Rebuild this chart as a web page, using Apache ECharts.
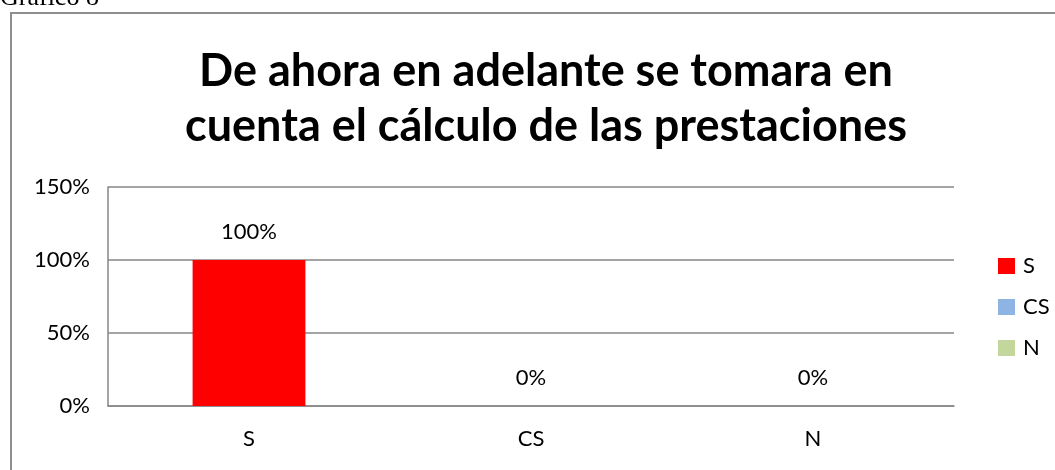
<!DOCTYPE html>
<html>
<head>
<meta charset="utf-8">
<script src="https://cdn.jsdelivr.net/npm/echarts@6/dist/echarts.min.js"></script>
<style>
    html, body { margin: 0; padding: 0; background: #fff; }
    #chart { width: 1055px; height: 470px; }
</style>
</head>
<body>
<div id="chart"></div>
<script>
// datos del gráfico
const categorias = ['S', 'CS', 'N'];
const valoresS = [100, null, null];
const valoresCS = [null, 0, null];
const valoresN = [null, null, 0];
const ticksY = [0, 50, 100, 150];

const fuente = 'Lato';
const gris = '#868686';

let chart = echarts.init(document.getElementById('chart'));

function serie(nombre, datos, color) {
    return {
        name: nombre,
        type: 'bar',
        stack: 'total',
        barWidth: '40%',
        data: datos,
        itemStyle: { color: color },
        label: {
            show: true,
            position: 'top',
            distance: 17,
            formatter: '{c}%',
            fontFamily: fuente,
            fontSize: 22,
            color: '#000'
        }
    };
}

let option = {
    animation: false,
    title: {
        text: 'De ahora en adelante se tomara en\ncuenta el cálculo de las prestaciones',
        left: 541,
        top: 39,
        textAlign: 'center',
        textStyle: {
            fontFamily: fuente,
            fontWeight: 'bold',
            fontSize: 45,
            lineHeight: 55,
            color: '#000'
        }
    },
    graphic: [
        {
            type: 'rect',
            shape: { x: 11, y: 13, width: 1100, height: 500 },
            style: { fill: 'none', stroke: '#8e8e8e', lineWidth: 2 },
            silent: true
        },
        {
            type: 'text',
            x: 0,
            y: 11,
            style: {
                text: 'Gráfico 8',
                font: '26px "Liberation Serif"',
                fill: '#000',
                verticalAlign: 'bottom'
            }
        }
    ],
    legend: {
        orient: 'vertical',
        left: 993,
        top: 250,
        icon: 'rect',
        itemWidth: 17,
        itemHeight: 16,
        itemGap: 19,
        data: categorias,
        textStyle: { fontFamily: fuente, fontSize: 22, color: '#000', padding: [0, 0, 0, 3] }
    },
    grid: {
        left: 108,
        right: 101,
        top: 187,
        bottom: 64
    },
    xAxis: {
        type: 'category',
        data: categorias,
        axisLine: { lineStyle: { color: gris, width: 1.5 } },
        axisTick: { show: false },
        axisLabel: { margin: 22, fontFamily: fuente, fontSize: 22, color: '#000' }
    },
    yAxis: {
        type: 'value',
        min: ticksY[0],
        max: ticksY[ticksY.length - 1],
        interval: 50,
        axisLine: { show: true, lineStyle: { color: gris, width: 1.5 } },
        axisTick: { show: false },
        splitLine: { lineStyle: { color: gris, width: 1.5 } },
        axisLabel: { margin: 18, formatter: '{value}%', fontFamily: fuente, fontSize: 22, color: '#000' }
    },
    series: [
        serie('S', valoresS, '#ff0000'),
        serie('CS', valoresCS, '#8eb4e3'),
        serie('N', valoresN, '#c3d69b')
    ]
};

chart.setOption(option);
window.onresize = chart.resize;
</script>
</body>
</html>
